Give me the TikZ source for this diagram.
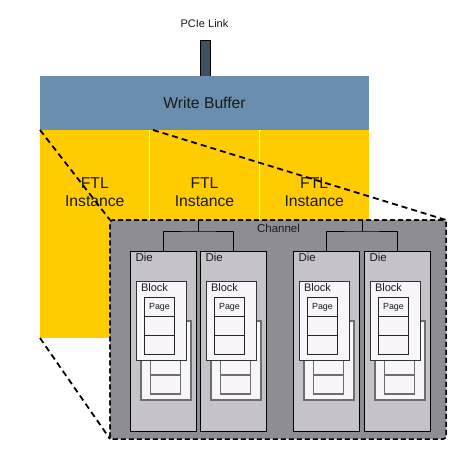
\documentclass[tikz,border=0pt]{standalone}
\usepackage{fontspec}
\setmainfont{Liberation Sans}
\usetikzlibrary{calc}
\definecolor{wbblue}{HTML}{6A8EAD}
\definecolor{pciecol}{HTML}{3F5161}
\definecolor{ftlyellow}{HTML}{FFCC00}
\definecolor{changray}{HTML}{8D8D93}
\definecolor{diegray}{HTML}{C5C3C9}
\definecolor{blockfill}{HTML}{F8F6FA}
\definecolor{backborder}{HTML}{6E6E6E}
\definecolor{txt}{HTML}{1A1A1A}
\begin{document}
\begin{tikzpicture}[x=1pt,y=-1pt,
  box/.style={inner sep=0pt, outer sep=0pt, anchor=north west},
  lbl/.style={inner sep=0pt, outer sep=0pt, text=txt},
  wbbox/.style={box, fill=wbblue, minimum width=329pt, minimum height=54pt, font=\fontsize{15.7}{18.3}\selectfont, text=txt},
  pciebar/.style={box, fill=pciecol, draw=black, line width=0.9pt, minimum width=10pt, minimum height=36pt},
  ftlbox/.style={box, fill=ftlyellow, minimum width=109.7pt, minimum height=208pt},
  ftltext/.style={lbl, align=center, font=\fontsize{15.7}{18.3}\selectfont},
  dashline/.style={draw=black, line width=1.8pt, dash pattern=on 6pt off 4pt},
  chanbox/.style={box, fill=changray, draw=black, line width=1.5pt, dash pattern=on 5pt off 3pt, rounded corners=3pt, minimum width=336pt, minimum height=219pt},
  diebox/.style={box, fill=diegray, draw=black, line width=0.8pt, minimum width=66pt, minimum height=180pt},
  backblock/.style={box, fill=blockfill, draw=backborder, line width=1.3pt, minimum width=50pt, minimum height=79pt},
  frontblock/.style={box, fill=blockfill, draw=black!80, line width=0.8pt, minimum width=50pt, minimum height=79pt},
  pagecell/.style={box, fill=blockfill, draw=black!85, line width=0.8pt, minimum width=30pt, minimum height=19pt},
  backpage/.style={box, fill=blockfill, draw=backborder, line width=1.3pt, minimum width=30pt, minimum height=19pt},
  treeline/.style={draw=black, line width=0.8pt}
]
\useasboundingbox (0,0) rectangle (471,471);

% PCIe link
\node[lbl, font=\fontsize{11}{13}\selectfont] (pcielbl) at (204.5,24) {PCIe Link};
\node[pciebar] (pcie) at (200,40) {};

% Write buffer
\node[wbbox] (wb) at (40,76) {Write Buffer};

% FTL instances
\node[ftlbox] (ftl1) at (40,130) {};
\node[ftlbox] (ftl2) at (149.7,130) {};
\node[ftlbox] (ftl3) at (259.3,130) {};
\draw[white, line width=0.5pt] (ftl1.north east) -- (ftl1.south east);
\draw[white, line width=0.5pt] (ftl2.north east) -- (ftl2.south east);
\node[ftltext] (ftlt1) at (94.8,192.5) {FTL\\Instance};
\node[ftltext] (ftlt2) at (204.5,192.5) {FTL\\Instance};
\node[ftltext] (ftlt3) at (314.2,192.5) {FTL\\Instance};

% Channel
\node[chanbox] (ch) at (110,220) {};
\coordinate (d2) at (153,130);
\draw[dashline] (wb.south west) -- (ch.north west);
\draw[dashline] (ftl1.south west) -- (ch.south west);
\draw[dashline] (d2) -- (ch.north east);
\node[chanbox] (ch2) at (110,220) {};
\node[lbl, font=\fontsize{11.5}{13}\selectfont] (chl) at (278.5,228) {Channel};

% Dies
\foreach \i/\x in {1/130.5,2/200.5,3/293.5,4/364.5}{
  \node[diebox] (die\i) at (\x,251) {};
  \node[lbl, anchor=west, font=\fontsize{11.5}{13}\selectfont] (diel\i) at (\x+5,257) {Die};
  \node[backblock] (bb\i) at (\x+10.5,321) {};
  \node[backpage] (bpa\i) at (\x+20,337) {};
  \node[backpage] (bpb\i) at (\x+20,356) {};
  \node[backpage] (bpc\i) at (\x+20,375) {};
  \node[frontblock] (fb\i) at (\x+5.5,281) {};
  \node[lbl, anchor=west, font=\fontsize{11}{13}\selectfont] (fbl\i) at (\x+10.5,287.5) {Block};
  \node[pagecell, font=\fontsize{8.9}{10}\selectfont, text=txt] (pa\i) at (\x+14,297.5) {Page};
  \node[pagecell] (pb\i) at (\x+14,316.5) {};
  \node[pagecell] (pc\i) at (\x+14,335.5) {};
}

% Tree connectors
\path (die1.north) -- (die2.north) coordinate[pos=0.5] (m12);
\path (die3.north) -- (die4.north) coordinate[pos=0.5] (m34);
\coordinate (h12) at ($(m12)+(0,-20)$);
\coordinate (h34) at ($(m34)+(0,-20)$);
\draw[treeline] (die1.north) |- (h12) -| (die2.north);
\draw[treeline] (h12) -- (h12 |- ch.north);
\draw[treeline] (die3.north) |- (h34) -| (die4.north);
\draw[treeline] (h34) -- (h34 |- ch.north);
\end{tikzpicture}
\end{document}
